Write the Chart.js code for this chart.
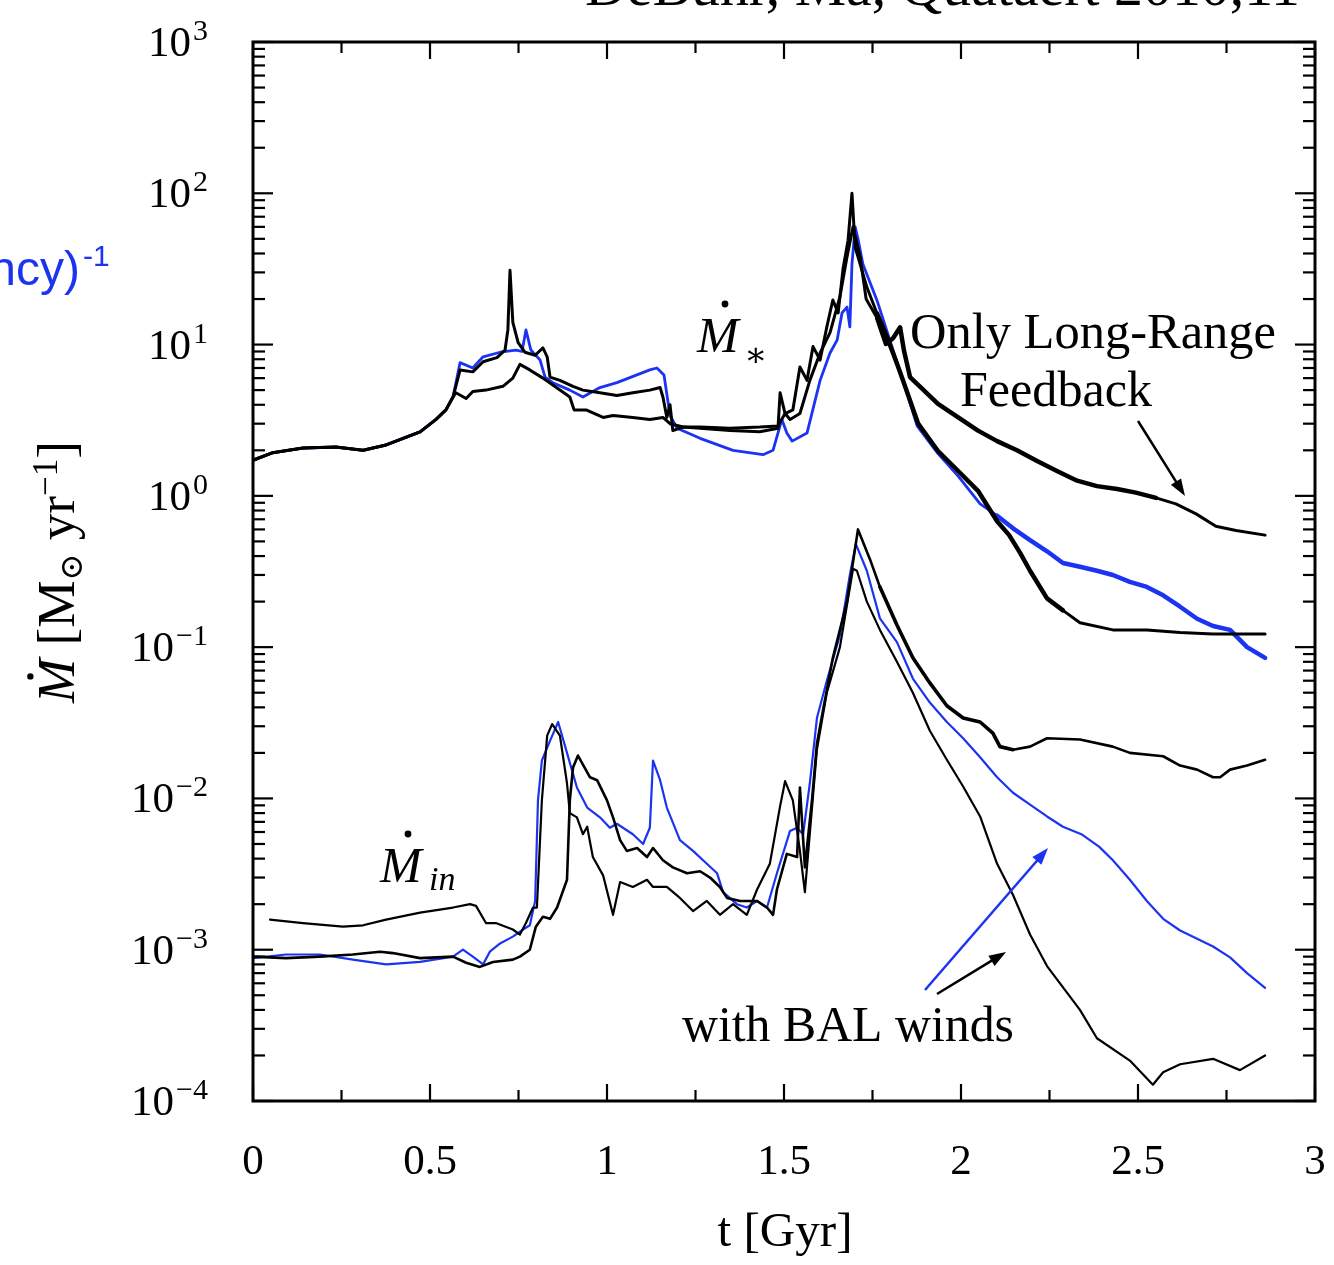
<!DOCTYPE html>
<html>
<head>
<meta charset="utf-8">
<script src="https://cdn.jsdelivr.net/npm/chart.js@4.4.0/dist/chart.umd.min.js"></script>
<style>
  html, body { margin: 0; padding: 0; background: #fff; }
  #wrap { width: 1334px; height: 1265px; }
</style>
</head>
<body>
<div id="wrap"><canvas id="myChart" width="1334" height="1265"></canvas></div>
<script>
// axis ticks
const xTickValues = [0, 0.5, 1, 1.5, 2, 2.5, 3];
const xTickLabels = ['0', '0.5', '1', '1.5', '2', '2.5', '3'];
const yTickValues = [1e-4, 1e-3, 1e-2, 1e-1, 1, 10, 100, 1000];
const yTickExponents = ['−4', '−3', '−2', '−1', '0', '1', '2', '3'];

// star formation rate, [t (Gyr), Mdot]
const sfrLongRange = [[0,1.72],[0.056,1.93],[0.141,2.07],[0.234,2.1],[0.311,2.0],[0.376,2.17],[0.424,2.4],[0.472,2.65],[0.517,3.2],[0.545,3.7],[0.565,4.5],
  [0.573,4.8],[0.602,4.4],[0.621,4.9],[0.658,5.0],[0.706,5.3],[0.734,6.0],[0.754,7.4],[0.782,6.8],[0.819,6.0],[0.847,5.4],[0.895,4.5],[0.907,3.7],[0.941,3.7],
  [0.989,3.3],[1.017,3.4],[1.073,3.3],[1.121,3.2],[1.158,3.3],[1.178,3.0],[1.215,2.85],[1.263,2.85],[1.347,2.8],[1.432,2.85],[1.483,2.9],[1.503,3.5],[1.517,3.2],
  [1.545,3.5],[1.573,5.8],[1.602,8.8],[1.630,12],[1.658,20.7],[1.678,38],[1.695,60],[1.715,38],[1.732,20],[1.763,15],[1.788,10.1],[1.808,11],[1.828,13],
  [1.839,9.1],[1.856,6.1],[1.935,4.06],[1.992,3.3],[2.048,2.7],[2.102,2.3],[2.158,2.0],[2.215,1.7],[2.271,1.46],[2.328,1.26],[2.384,1.16],[2.441,1.11],
  [2.494,1.05],[2.551,0.97],[2.607,0.885],[2.664,0.76],[2.720,0.63],[2.777,0.59],[2.859,0.55]];

const sfrBAL = [[0,1.72],[0.056,1.93],[0.141,2.07],[0.234,2.1],[0.311,2.0],[0.376,2.17],[0.424,2.4],[0.472,2.65],[0.517,3.2],[0.545,3.7],[0.565,4.5],
  [0.585,6.8],[0.621,6.6],[0.650,7.7],[0.689,8.2],[0.712,9.2],[0.720,12.5],[0.726,31],[0.734,14],[0.749,10.3],[0.768,8.9],[0.797,8.5],[0.819,9.5],[0.831,8.3],
  [0.839,6.1],[0.867,5.8],[0.904,5.3],[0.932,5.0],[0.980,4.8],[1.028,4.6],[1.073,4.8],[1.121,5.0],[1.150,5.2],[1.158,4.5],[1.169,3.3],[1.178,4.0],[1.186,2.7],
  [1.215,2.85],[1.263,2.8],[1.347,2.7],[1.432,2.65],[1.483,2.8],[1.489,4.8],[1.503,3.5],[1.525,3.7],[1.545,7.1],[1.565,5.8],[1.582,9.7],[1.602,7.9],
  [1.621,13.1],[1.638,19.7],[1.653,16.2],[1.667,32],[1.681,49],[1.692,100],[1.701,44],[1.715,34],[1.734,24],[1.763,16],[1.791,11.2],[1.819,7.5],[1.836,5.8],
  [1.879,3.0],[1.935,1.98],[1.992,1.46],[2.048,1.08],[2.102,0.68],[2.136,0.55],[2.167,0.42],[2.195,0.32],[2.243,0.21],[2.288,0.175],[2.336,0.145],
  [2.429,0.13],[2.525,0.13],[2.619,0.125],[2.712,0.122],[2.859,0.122]];

const sfrBlue = [[0,1.72],[0.056,1.93],[0.141,2.07],[0.234,2.1],[0.311,2.0],[0.376,2.17],[0.424,2.4],[0.472,2.65],[0.517,3.2],[0.545,3.7],[0.565,4.5],
  [0.585,7.6],[0.621,7.0],[0.650,8.3],[0.698,8.9],[0.743,9.2],[0.760,9.0],[0.771,12.5],[0.785,9.2],[0.811,7.9],[0.825,6.1],[0.847,5.6],[0.895,5.0],[0.932,4.5],
  [0.980,5.2],[1.028,5.6],[1.121,6.8],[1.141,7.0],[1.161,6.3],[1.178,3.4],[1.198,2.8],[1.263,2.4],[1.356,2.0],[1.441,1.87],[1.469,2.0],[1.494,3.2],[1.508,2.6],
  [1.523,2.3],[1.565,2.6],[1.602,5.8],[1.630,8.8],[1.650,10.7],[1.664,16.2],[1.678,17.7],[1.686,13.1],[1.692,34],[1.701,60],[1.709,50],[1.723,34],[1.763,19.5],
  [1.799,10.7],[1.836,5.8],[1.876,2.9],[1.935,1.9],[1.992,1.35],[2.054,0.885],[2.102,0.74],[2.147,0.61],[2.195,0.51],[2.243,0.43],[2.288,0.36],[2.336,0.34],
  [2.384,0.32],[2.429,0.30],[2.477,0.27],[2.525,0.25],[2.571,0.22],[2.619,0.185],[2.667,0.154],[2.712,0.138],[2.760,0.13],[2.808,0.10],[2.859,0.085]];

// inflow rate, [t (Gyr), Mdot]
const inLongRange = [[0,9e-4],[0.093,8.8e-4],[0.189,9e-4],[0.282,9.3e-4],[0.359,9.7e-4],[0.395,9.5e-4],[0.472,8.8e-4],[0.565,9e-4],[0.602,8.2e-4],
  [0.641,7.7e-4],[0.678,8.3e-4],[0.734,8.6e-4],[0.754,9e-4],[0.782,1e-3],[0.799,1.42e-3],[0.819,1.65e-3],[0.839,1.6e-3],[0.859,1.9e-3],[0.887,2.9e-3],
  [0.895,9.7e-3],[0.904,0.016],[0.918,0.0192],[0.952,0.0138],[0.972,0.0132],[1.0,0.0097],[1.017,0.0075],[1.037,0.0053],[1.056,0.0045],[1.085,0.0047],
  [1.113,0.0041],[1.130,0.0047],[1.158,0.0039],[1.186,0.0035],[1.226,0.0032],[1.263,0.0033],[1.291,0.003],[1.319,0.0026],[1.339,0.0022],[1.376,0.0021],
  [1.424,0.0021],[1.452,0.0019],[1.469,0.0017],[1.480,0.0025],[1.508,0.0043],[1.537,0.0041],[1.545,0.0118],[1.559,0.0035],[1.579,0.0097],[1.593,0.023],
  [1.610,0.038],[1.621,0.052],[1.638,0.085],[1.678,0.2],[1.709,0.6],[1.743,0.38],[1.771,0.25],[1.819,0.14],[1.864,0.085],[1.912,0.058],[1.960,0.041],
  [2.006,0.034],[2.054,0.032],[2.090,0.027],[2.110,0.022],[2.147,0.021],[2.195,0.022],[2.243,0.025],[2.336,0.0245],[2.429,0.022],[2.477,0.020],
  [2.571,0.019],[2.619,0.0165],[2.667,0.0155],[2.712,0.0138],[2.732,0.0138],[2.760,0.0155],[2.808,0.0165],[2.859,0.018]];

const inBAL = [[0.048,1.58e-3],[0.141,1.5e-3],[0.254,1.42e-3],[0.311,1.45e-3],[0.376,1.58e-3],[0.472,1.76e-3],[0.565,1.9e-3],[0.613,2.0e-3],[0.630,1.95e-3],
  [0.658,1.5e-3],[0.686,1.5e-3],[0.734,1.36e-3],[0.754,1.26e-3],[0.771,1.5e-3],[0.791,1.9e-3],[0.802,1.9e-3],[0.816,9.7e-3],[0.831,0.026],[0.845,0.031],
  [0.867,0.026],[0.887,0.0126],[0.895,0.008],[0.915,0.0075],[0.932,0.0058],[0.944,0.0065],[0.960,0.0041],[0.989,0.0031],[1.017,0.0017],[1.037,0.0028],
  [1.073,0.0026],[1.113,0.0029],[1.130,0.0026],[1.169,0.0026],[1.206,0.0022],[1.243,0.0018],[1.282,0.0021],[1.319,0.0017],[1.356,0.002],[1.395,0.0017],
  [1.424,0.0025],[1.460,0.0037],[1.489,0.0089],[1.503,0.013],[1.525,0.0097],[1.545,0.0045],[1.559,0.0024],[1.573,0.0059],[1.593,0.021],[1.621,0.05],
  [1.658,0.1],[1.695,0.33],[1.706,0.32],[1.734,0.2],[1.771,0.13],[1.819,0.08],[1.864,0.05],[1.912,0.028],[1.960,0.018],[2.006,0.012],[2.054,0.0076],
  [2.102,0.0037],[2.147,0.0023],[2.195,0.00126],[2.243,7.8e-4],[2.336,4e-4],[2.384,2.6e-4],[2.477,1.85e-4],[2.542,1.28e-4],[2.571,1.55e-4],[2.619,1.75e-4],
  [2.712,1.9e-4],[2.788,1.6e-4],[2.859,2.0e-4]];

const inBlue = [[0,8.8e-4],[0.093,9.3e-4],[0.189,9.3e-4],[0.282,8.6e-4],[0.376,8e-4],[0.472,8.3e-4],[0.565,9e-4],[0.593,1e-3],[0.621,9e-4],[0.650,8e-4],
  [0.669,9.7e-4],[0.698,1.1e-3],[0.734,1.22e-3],[0.763,1.36e-3],[0.782,1.45e-3],[0.797,2.1e-3],[0.805,9.7e-3],[0.816,0.0178],[0.839,0.024],[0.862,0.032],
  [0.887,0.02],[0.915,0.0118],[0.944,0.0087],[0.980,0.0075],[1.008,0.0064],[1.028,0.0068],[1.045,0.0064],[1.073,0.0058],[1.102,0.005],[1.121,0.0064],
  [1.130,0.0178],[1.150,0.0132],[1.169,0.0087],[1.206,0.0053],[1.243,0.0045],[1.282,0.0037],[1.311,0.0032],[1.328,0.0024],[1.367,0.002],[1.395,0.0019],
  [1.424,0.0021],[1.452,0.0019],[1.480,0.0032],[1.517,0.0061],[1.537,0.0064],[1.554,0.0058],[1.573,0.0126],[1.593,0.034],[1.621,0.06],[1.658,0.12],
  [1.686,0.3],[1.703,0.48],[1.734,0.32],[1.771,0.155],[1.819,0.108],[1.864,0.062],[1.912,0.043],[1.960,0.032],[2.006,0.025],[2.054,0.0187],[2.102,0.0138],
  [2.147,0.0109],[2.195,0.0091],[2.243,0.0076],[2.288,0.0065],[2.340,0.0058],[2.390,0.0048],[2.429,0.0039],[2.477,0.0029],[2.525,0.0021],[2.571,0.0016],
  [2.619,0.00134],[2.667,0.00118],[2.712,0.00105],[2.760,8.9e-4],[2.808,7e-4],[2.859,5.6e-4]];

const SERIF = '"Liberation Serif", "DejaVu Serif", serif';
const BLUE = '#1c34f2';

function pts(arr) {
  return arr.map(([t, v]) => ({ x: t, y: v }));
}

function line(ctx, x1, y1, x2, y2) {
  ctx.beginPath(); ctx.moveTo(x1, y1); ctx.lineTo(x2, y2); ctx.stroke();
}

function arrow(ctx, x1, y1, x2, y2, color) {
  const a = Math.atan2(y2 - y1, x2 - x1);
  const L = 17, W = 6;
  ctx.strokeStyle = color; ctx.fillStyle = color; ctx.lineWidth = 2.5;
  line(ctx, x1, y1, x2 - L * 0.7 * Math.cos(a), y2 - L * 0.7 * Math.sin(a));
  ctx.beginPath();
  ctx.moveTo(x2, y2);
  ctx.lineTo(x2 - L * Math.cos(a) + W * Math.sin(a), y2 - L * Math.sin(a) - W * Math.cos(a));
  ctx.lineTo(x2 - L * Math.cos(a) - W * Math.sin(a), y2 - L * Math.sin(a) + W * Math.cos(a));
  ctx.closePath(); ctx.fill();
}

// font size that makes text span a given width
function fitSize(ctx, text, style, family, target) {
  ctx.font = style + ' 50px ' + family;
  return 50 * target / ctx.measureText(text).width;
}

const decorations = {
  id: 'decorations',
  afterDraw(chart) {
    const { ctx, chartArea: a, scales: { x, y } } = chart;
    ctx.save();
    ctx.fillStyle = '#000';
    ctx.strokeStyle = '#000';

    // frame
    ctx.lineWidth = 3;
    ctx.strokeRect(a.left, a.top, a.right - a.left, a.bottom - a.top);

    // x ticks (inward, top and bottom)
    ctx.lineWidth = 2.2;
    xTickValues.forEach((v, i) => {
      const px = x.getPixelForValue(v);
      line(ctx, px, a.bottom, px, a.bottom - 17);
      line(ctx, px, a.top, px, a.top + 17);
      if (i < xTickValues.length - 1) {
        const pm = x.getPixelForValue((v + xTickValues[i + 1]) / 2);
        line(ctx, pm, a.bottom, pm, a.bottom - 11);
        line(ctx, pm, a.top, pm, a.top + 11);
      }
    });

    // y ticks (inward, left and right)
    yTickValues.forEach((v, i) => {
      const py = y.getPixelForValue(v);
      line(ctx, a.left, py, a.left + 20, py);
      line(ctx, a.right, py, a.right - 20, py);
      if (i < yTickValues.length - 1) {
        for (let k = 2; k <= 9; k++) {
          const pm = y.getPixelForValue(v * k);
          line(ctx, a.left, pm, a.left + 12, pm);
          line(ctx, a.right, pm, a.right - 12, pm);
        }
      }
    });

    // x tick labels
    ctx.font = '43px ' + SERIF;
    ctx.textAlign = 'center';
    ctx.textBaseline = 'alphabetic';
    xTickValues.forEach((v, i) => {
      ctx.fillText(xTickLabels[i], x.getPixelForValue(v), 1174);
    });

    // y tick labels 10^n
    yTickValues.forEach((v, i) => {
      const py = y.getPixelForValue(v);
      ctx.textAlign = 'right';
      ctx.font = '30px ' + SERIF;
      const ew = ctx.measureText(yTickExponents[i]).width;
      ctx.fillText(yTickExponents[i], 208, py - 2);
      ctx.font = '43px ' + SERIF;
      ctx.fillText('10', 208 - ew - 2, py + 14);
    });

    // x axis title
    ctx.textAlign = 'center';
    ctx.font = fitSize(ctx, 't [Gyr]', '', SERIF, 135) + 'px ' + SERIF;
    ctx.fillText('t [Gyr]', 785, 1246);

    // y axis title, rotated
    ctx.save();
    ctx.translate(74, 572);
    ctx.rotate(-Math.PI / 2);
    const mk = s => [
      { t: 'M', f: 'italic ' + s + 'px ' + SERIF, dy: 0 },
      { t: ' [M', f: s + 'px ' + SERIF, dy: 0 },
      { t: '⊙', f: Math.round(s * 0.6) + 'px "DejaVu Serif"', dy: 8 },
      { t: ' yr', f: s + 'px ' + SERIF, dy: 0 },
      { t: '−1', f: Math.round(s * 0.66) + 'px ' + SERIF, dy: -17 },
      { t: ']', f: s + 'px ' + SERIF, dy: 0 }
    ];
    const width = segs => segs.reduce((w, g) => { ctx.font = g.f; g.w = ctx.measureText(g.t).width; return w + g.w; }, 0);
    let s = 46;
    s = s * 262 / width(mk(s));
    const segs = mk(s);
    const total = width(segs);
    let cx = -total / 2;
    ctx.textAlign = 'left';
    segs.forEach((g, i) => {
      ctx.font = g.f;
      ctx.fillText(g.t, cx, g.dy);
      if (i === 0) {
        ctx.beginPath(); ctx.arc(cx + g.w * 0.6, -s * 0.82, 3.2, 0, Math.PI * 2); ctx.fill();
      }
      cx += g.w;
    });
    ctx.restore();

    // title at top, cut by the page edge
    ctx.textAlign = 'left';
    const title = 'DeBuhr, Ma, Quataert 2010,11';
    ctx.font = fitSize(ctx, title, '', SERIF, 715) + 'px ' + SERIF;
    ctx.fillText(title, 585, 5);

    // blue text cut at the left edge
    ctx.fillStyle = BLUE;
    ctx.font = '48px "Liberation Sans", Arial, sans-serif';
    ctx.textAlign = 'right';
    ctx.fillText('efficiency)', 80, 285);
    ctx.textAlign = 'left';
    ctx.font = '30px "Liberation Sans", Arial, sans-serif';
    ctx.fillText('-1', 83, 266);

    // curve labels
    ctx.fillStyle = '#000';
    ctx.textAlign = 'left';
    ctx.font = 'italic 50px ' + SERIF;
    ctx.fillText('M', 697, 352);
    ctx.beginPath(); ctx.arc(725, 304, 3.4, 0, Math.PI * 2); ctx.fill();
    ctx.font = '34px "DejaVu Serif"';
    ctx.fillText('∗', 744, 366);

    ctx.font = 'italic 50px ' + SERIF;
    ctx.fillText('M', 380, 882);
    ctx.beginPath(); ctx.arc(408, 834, 3.4, 0, Math.PI * 2); ctx.fill();
    ctx.font = 'italic 34px ' + SERIF;
    ctx.fillText('in', 429, 890);

    ctx.font = fitSize(ctx, 'Only Long-Range', '', SERIF, 366) + 'px ' + SERIF;
    ctx.fillText('Only Long-Range', 910, 348);
    ctx.font = fitSize(ctx, 'Feedback', '', SERIF, 192) + 'px ' + SERIF;
    ctx.fillText('Feedback', 960, 406);
    ctx.font = fitSize(ctx, 'with BAL winds', '', SERIF, 332) + 'px ' + SERIF;
    ctx.fillText('with BAL winds', 682, 1041);

    arrow(ctx, 1138, 421, 1185, 496, '#000');
    arrow(ctx, 925, 990, 1048, 848, BLUE);
    arrow(ctx, 937, 994, 1006, 952, '#000');

    ctx.restore();
  }
};

const common = { pointRadius: 0, tension: 0, fill: false, borderJoinStyle: 'round', borderCapStyle: 'round' };
// noisy stretches of the curves look thicker
const wider = (from, to, thin, thick) => ({
  borderWidth: c => (c.p0.parsed.x >= from && c.p0.parsed.x <= to ? thick : thin)
});

const ctx = document.getElementById('myChart').getContext('2d');
const myChart = new Chart(ctx, {
  type: 'line',
  data: {
    datasets: [
      { ...common, label: 'SFR long-range', data: pts(sfrLongRange), borderColor: '#000', borderWidth: 3, segment: wider(1.75, 2.5, 3, 4.5) },
      { ...common, label: 'SFR BAL', data: pts(sfrBAL), borderColor: '#000', borderWidth: 3, segment: wider(1.75, 2.25, 3, 4.5) },
      { ...common, label: 'Inflow long-range', data: pts(inLongRange), borderColor: '#000', borderWidth: 2.6, segment: wider(1.75, 2.12, 2.6, 3.6) },
      { ...common, label: 'Inflow BAL', data: pts(inBAL), borderColor: '#000', borderWidth: 2.2 },
      { ...common, label: 'SFR blue', data: pts(sfrBlue), borderColor: BLUE, borderWidth: 2.8, segment: wider(2.1, 2.9, 2.8, 4.5) },
      { ...common, label: 'Inflow blue', data: pts(inBlue), borderColor: BLUE, borderWidth: 2.2 }
    ]
  },
  options: {
    responsive: false,
    animation: false,
    devicePixelRatio: 1,
    layout: { padding: { top: 42, right: 19, left: 0, bottom: 0 } },
    plugins: { legend: { display: false }, tooltip: { enabled: false } },
    scales: {
      x: {
        type: 'linear', min: 0, max: 3,
        ticks: { display: false, stepSize: 0.5 },
        grid: { display: false }, border: { display: false },
        afterFit: s => { s.height = 164; }
      },
      y: {
        type: 'logarithmic', min: 1e-4, max: 1e3,
        ticks: { display: false },
        grid: { display: false }, border: { display: false },
        afterFit: s => { s.width = 253; }
      }
    }
  },
  plugins: [decorations]
});
</script>
</body>
</html>
